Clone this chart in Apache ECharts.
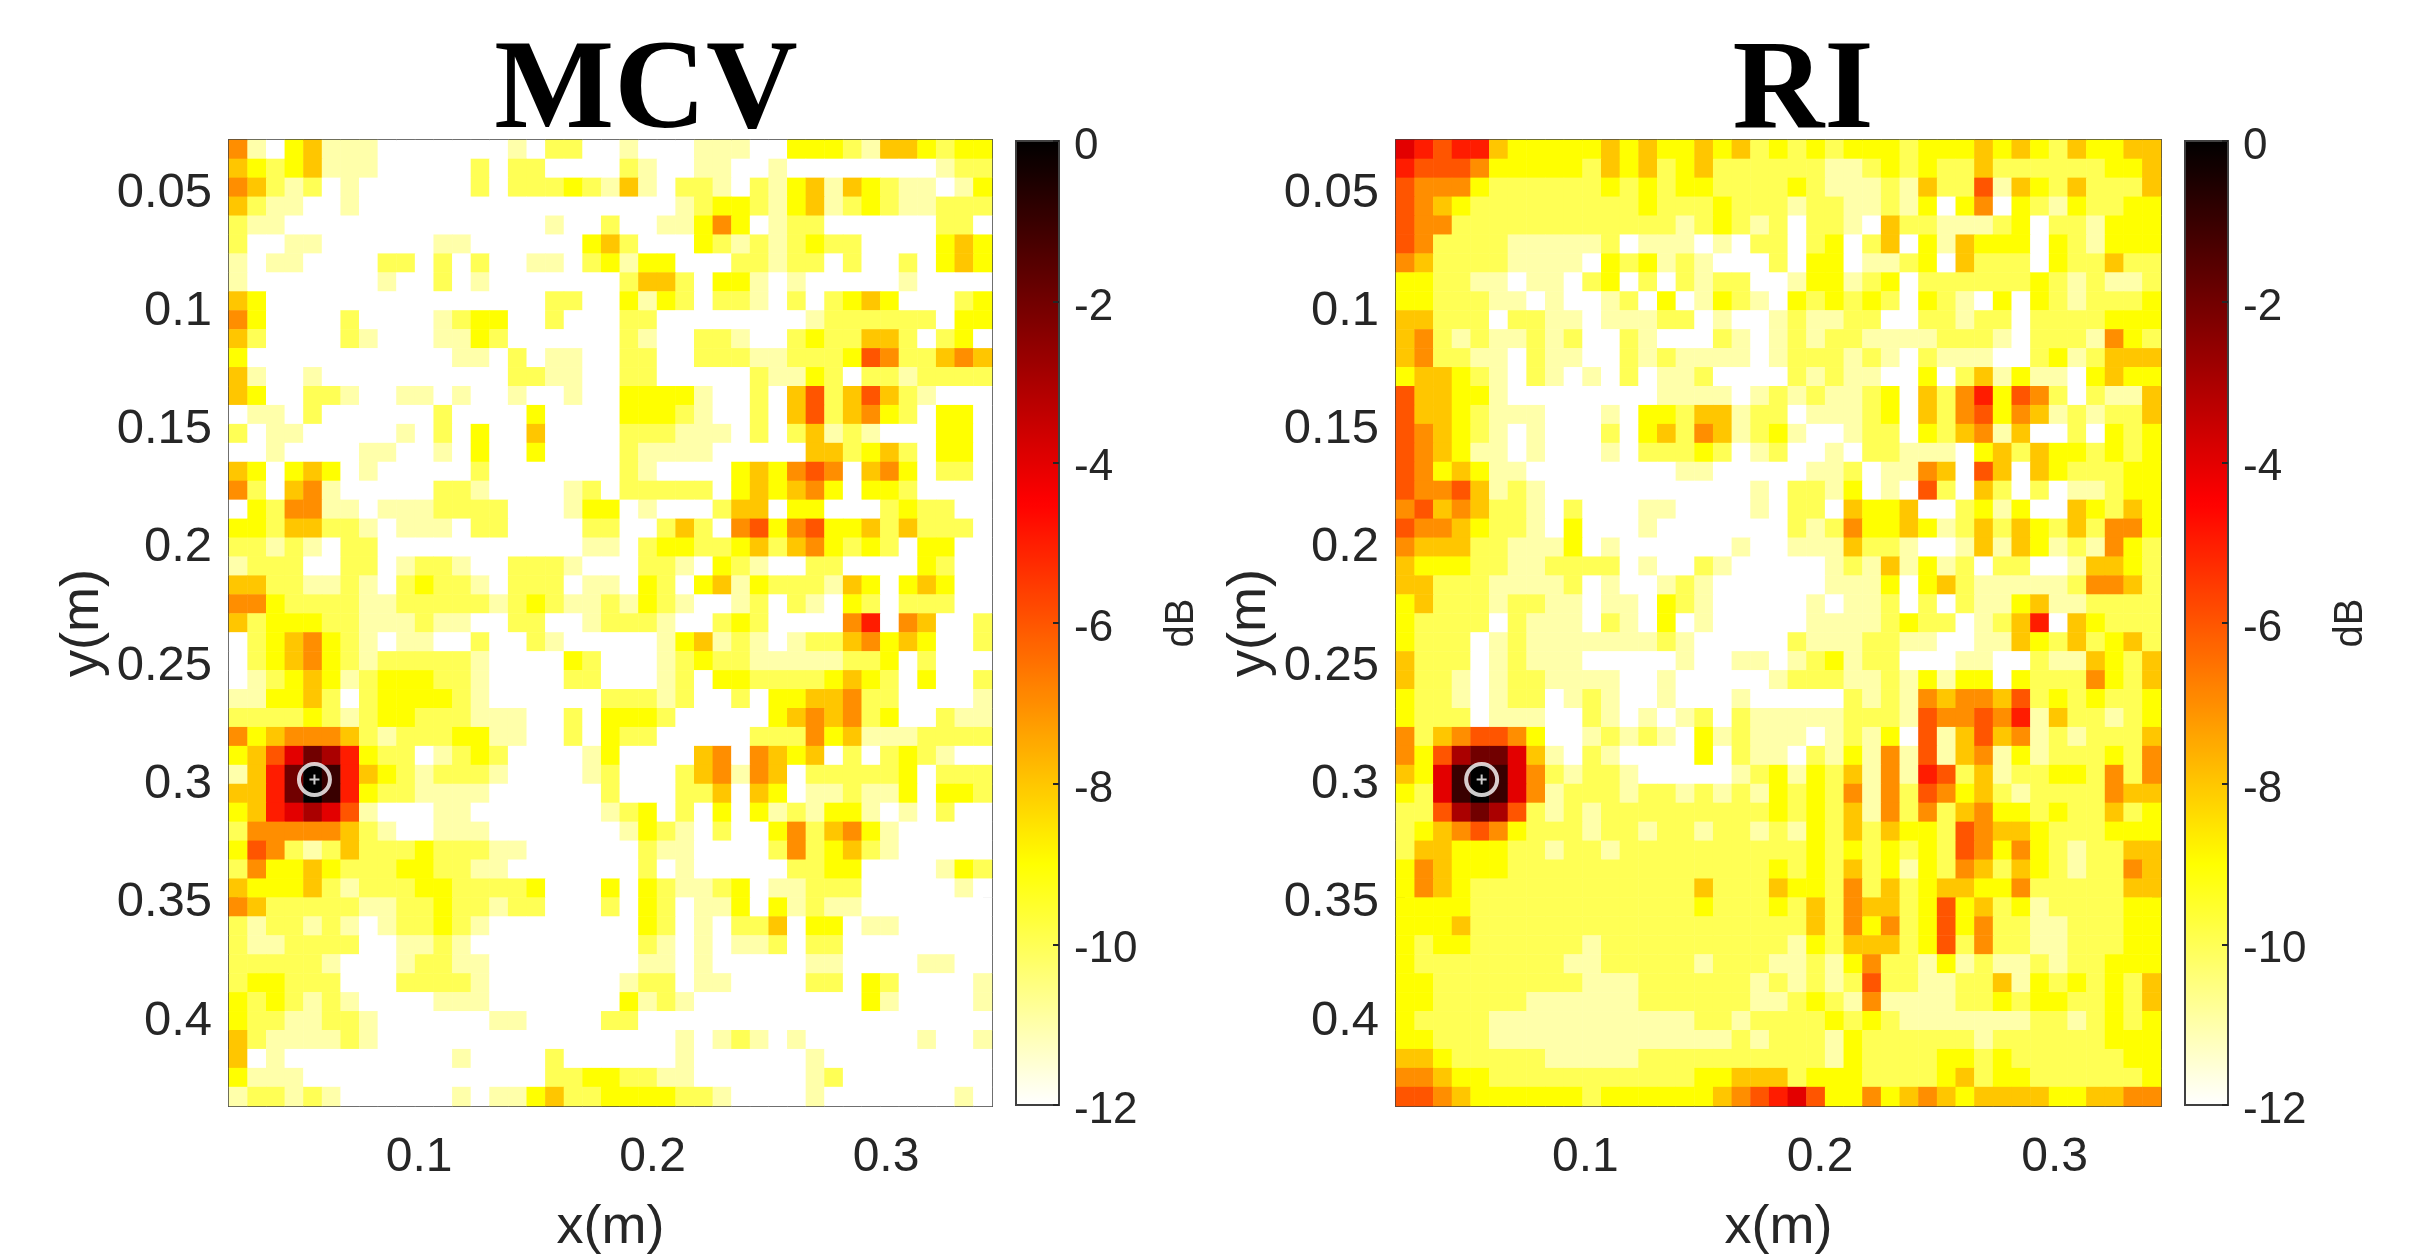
<!DOCTYPE html>
<html><head><meta charset="utf-8">
<style>html,body{margin:0;padding:0;background:#fff}#c{width:2414px;height:1257px}</style>
<script src="https://cdn.jsdelivr.net/npm/echarts@6/dist/echarts.min.js"></script></head>
<body><div id="c"></div>
<script>
// each character is one cell: minus dB, base 13 (0..9,a,b), '.' = -12 dB
var mcvRows = [
"7b.98bbb.......b.aa.."+"b...bbb..999ab889a99",
"89a98bbb.....a.aa...."+"ab..bb..b........baa",
"78aba.b......a.aaa9ab"+"8b.aab.ab98b89abb.b9",
"8abb..b.............."+"...ba99ab98ba9abbaaa",
"abb..............b..a"+"..bb979.baa......aa.",
"a..bb......bb......98"+"a...9ababa9aa....989",
"b.bb....aa.a.a..bb.a9"+"b99...aabaa.a..a.989",
"b.......b..a.b......."+"a88a.99b.b.....b....",
"89...............aa.."+"9b9a.aab.a.a989...a9",
"79....a....ba99..a..."+"aa........baaaaaa.99",
"8a....ab...bb9a......"+"ab..aab..a9aa88a.a9.",
"9...........bb.a.bb.."+"aa..aaabbaaa967aa878",
"8b..b..........aabb.."+"aa.....abb9a.aabaaaa",
"89..aab..bb.b..b..b.."+"9999b..a.86a868ab...",
".bb.a......a....9...."+"999ab..a.86a879a.99.",
"a.bb.....b.a.9..8...."+"aaabbb.a.a8bab...99.",
"..b....bb..b.9..9...."+"abbbb.....88a98a.99.",
"89.989.b.....a......."+"ab....989767.879.aa.",
"7a.87b.....aab....ba."+"aaaaa.989879.99a....",
".9a77bb.bbbaaaa...b99"+".b...a88.99...a9aa..",
"99a88aab.bbb.aa....aa"+"..a8a.76976998a8aaa.",
"aabab.aa...........bb"+".a99aa98a879a9a.99..",
"baaa..aa.baab..aaab.."+".aab.9ab..aa....9a..",
"88aabbab.a9aab.aaa.bb"+".9a.98b9aaab89.989..",
"779aaaabbaaaaaba9abba"+"b9ab..ba.ab.9a.aaa..",
"8a999aabbbabb..aa..ba"+"aab..a9a....75.78..a",
".a9879ab.bb..a..ab..."+"..b98bab.baa87989..a",
".a9879abaaaaab....9a."+"..ba9aabbbbbaa9.a...",
".ba989ba999aab....aa."+"..ba.99aaaa989a.9..a",
"bb998a.a9999ab......a"+"aaba..a.99887aa....b",
"aaaa9aba99aaabbb..a.9"+"99a.....98787a9..abb",
"7987778abaaa99bb..a.9"+"aa.....aaa798bbbaaaa",
"98642359aa.ba9a....b9"+"....87.7898.a.a9ab..",
"b85201589abaaab....ba"+"...a87b78.aaaaa9.aaa",
"88520159aabbbb......a"+"...aa8.89.bbabb9.99a",
"9854346b...bb.......b"+"a9.a.9.9bab99b.b.a..",
"a777778ab..bbb......."+"b9ab.a..97a879b.....",
"967aba8aaa9aaabb....."+".abb....a7a98ab.....",
"a79989aaa99aabb......"+".a.b.....aa99....b9a",
"89998abaaa99aaaa9...9"+".9abba9.bbaaa.....b.",
"78aaaaabbaa9aabaa...a"+".9a.bb9.9babb.......",
"abaabab.baa9ab......."+".9a.b.aa8.99.bb.....",
"abbaaaa..bbab........"+".ab.b.bba.aa........",
"aaaaab...baabb......."+".bb.b.....bb....bb..",
"a99aaa...aaaab......."+"baa.bb....aa.9a....b",
"9a9abab....bbb......."+"9bab.........9b....b",
"9aabbaab......bb....a"+"a...................",
"8abbbbab............."+"...b.bab.b......b..b",
"8.b.........b....a..."+"...b......b.........",
"9bbb.............aa99"+"aabb......ba........",
"baabab......b.bb98aa9"+"999aab....b.......b."
];
var riRows = [
"456558999998989989"+"8a9"+"a9a999a9998989a89988",
"5666799999a898a98aaaa"+"aabba9a9aa8aaaaaa998",
"67779aaaaaa9a9a99aaaa"+"9abbbab8aa6b89a8aaa8",
"6789aaaaaaaaa9aaa9aaa"+"baabbab9.97.9ab9aa99",
"677aaaaaaaaaaaaba9aba"+".aab.8aabbba9.aab999",
"67aaaabbbbba.bbb.b.aa"+".a9.a8.9b8999.9ab999",
"78aaaabbbb.9a9bab...a"+".99.bba9.8aaa.9aa8aa",
"99aabb.bb.a9.a.abaa.."+"b99ba9.aaaaaa9ababba",
"99aaabb.b..ba.9.b9ab."+"9a9a9a.9ab.9.9abaaa9",
"88aaa.aabb.bbbaa.b..b"+"abbaa..aabaa.aaaa999",
"87ababbaba..ab...ab.b"+"abaabbbbaaab.aaab79a",
"87aabb.abb..ababbbb.b"+"aaabab.abbb..a9ba888",
"9889ab.ab.b.a.bba...."+"ababb..9.a8b9bb.9899",
"68899b........bbbb.ba"+"babba9.8a75967a.abb8",
"6889abbb...b.99a88baa"+".bbba9.8a76978babaa8",
"6789ab.b...a.98a78ba9"+"b..baa.9a87b8..a.9a9",
"6789bb.b...b.aaa9a.ba"+"..b.aabbb.98a899a9a9",
"67989bb........bb...."+".bba.bb78.68.89aaa99",
"67768bab...........b."+"aab9.b.6a.8a.a.bba99",
"76878aab.a...bb....b."+"aa.8998..a9b9..89a89",
"67789aab.9...b......."+"aba79989ba8a89a8a779",
"7888aabbb9.b......b.."+"bbb8aab..b8b89bab79a",
"8999aabbaaaa.b..ab..."+"..bab8b9ba.aa..b889a",
"88aaabbbba.b..bab...."+"..bbb9.98abbbbba778a",
"98aaabaabb.bb.9ab...."+".b.bba.a.abb98bbaaaa",
"9aaaa.abbb.ab.9.b...."+".bbbba9aa.ba85.89aaa",
"9aaa.babbbbbbbab....."+"abbbaabb..bb89a8a98a",
"8aaa.babbb.....b..bb."+"ba9baa...bb..abb89a8",
"8aab.baabbbb..b.....b"+"aaabbab9b99.9aaa79a8",
"9aab.baa.bab..b...b.."+"...abab787786a9a9aa9",
"9aaa.bbb..ab.b.ba.abb"+"bbbaaab677675b8aaba9",
"7a876679..babab.9babb"+"b.bab9.6b8687babaaa8",
"79632248b.ab....9.abb"+".ab9b7b6b87b9baaa9a7",
"89410147abaab.....ba9"+"b9a8b7b56a8baa99a7a7",
"9a410147baaabaababab9"+"a9a7b7a6798abaaaa788",
"aa63236ababaaaaaaaaa9"+"a9a8b7a7a8799a9aa8a9",
"a987679aaabaabaabaaba"+"b9a8a899a67889aaa999",
"a88999aabaabaaaaaaaaa"+"a9a9a9a9a67979abaa88",
"978999aaaaaaaaaaaaaa9"+"a9a8a9b9a78a89abaa78",
"9789aaaaaaaaaaaa8aaa8"+"99a7a8a988997aaaaa88",
"9999aaaaaaaaaaaa9aaa9"+"a8a788a9698a9baaaa99",
"9998aaaaaaaaaaaaaaaaa"+"a8a797a9697aabbaaa99",
"9a99aaaaaabaaaaaaaaaa"+"b9a888a96a7aabbaaa99",
"9aaaaaaaabbaaaaabaaab"+"bab97aab9babbabaa999",
"99aaaaaaaabbbaaaaaaba"+"baba6aabbaa8b9a9a9a8",
"99aaaaabbbbbbaaaaaabb"+"a9ab7bbbbaa9a99aa9a8",
"9aaaabbbbbbbbbbbaabaa"+"aa9a9abbbbbbbaaba9a9",
"99aaabbbbbbbbbbbbbaba"+"aab9aaaaaabaaaaaa999",
"889aaaaabbbbbaaaaaaaa"+"aab9aaaa99a9aaaaaa99",
"77899aaaaaaaaaaa99888"+"a999aaaa98a99aaaaaa9",
"667899"+"9999"+"a99999"+"9"+"8765"+"4699798789"+"8888998877"
];
var xTicks = [0.1, 0.2, 0.3];
var yTicks = [0.05, 0.1, 0.15, 0.2, 0.25, 0.3, 0.35, 0.4];
var targetMCV = [[0.0552, 0.3]];
var targetRI = [[0.0558, 0.3]];
var titles = ["MCV", "RI"];

var COLS = 41, ROWS = mcvRows.length;
function cells(rows) {
  var out = [];
  rows.forEach(function (r, y) {
    r = r.padEnd(COLS, '.').slice(0, COLS);
    for (var x = 0; x < COLS; x++) {
      var ch = r[x];
      out.push([x, y, ch === '.' ? -12 : -parseInt(ch, 13)]);
    }
  });
  return out;
}
function seq(n) { var a = []; for (var i = 0; i < n; i++) a.push(String(i)); return a; }

var INK = '#262626', LINE = '#404040', SANS = 'Liberation Sans';
var hot = ['#ffffff', '#ffff80', '#ffff00', '#ffaa00', '#ff5500', '#ff0000', '#aa0000', '#550000', '#000000'];
var plots = [
  { left: 229, right: 1422, cb: 1016, xmin: 0.0186, xmax: 0.3454, rows: mcvRows, target: targetMCV },
  { left: 1396, right: 253, cb: 2185, xmin: 0.0193, xmax: 0.3453, rows: riRows, target: targetRI }
];
var grid = [], xAxis = [], yAxis = [], series = [], visualMap = [];
var TOP = 140, BOTTOM = 151, W = 2414, H = 1257;
plots.forEach(function (p, i) {
  var g = i;
  grid.push({ left: p.left, right: p.right, top: TOP, bottom: BOTTOM, show: false, outerBoundsMode: 'none' });
  var bx = xAxis.length, by = yAxis.length;
  xAxis.push({ gridIndex: g, type: 'category', data: seq(COLS), show: false });
  yAxis.push({ gridIndex: g, type: 'category', data: seq(ROWS), inverse: true, show: false });
  var lineStyle = { axisLine: { show: true, onZero: false, lineStyle: { color: LINE, width: 2 } } };
  xAxis.push(Object.assign({ gridIndex: g, type: 'value', position: 'bottom', min: p.xmin, max: p.xmax,
    name: 'x(m)', nameLocation: 'middle', nameGap: 95, nameTextStyle: { fontFamily: SANS, fontSize: 54, color: INK },
    splitLine: { show: false }, axisTick: { inside: true, length: 9, customValues: xTicks, lineStyle: { color: INK, width: 2 } },
    axisLabel: { customValues: xTicks, margin: 28, fontFamily: SANS, fontSize: 48, color: INK } }, lineStyle));
  xAxis.push(Object.assign({ gridIndex: g, type: 'value', position: 'top', min: p.xmin, max: p.xmax,
    splitLine: { show: false }, axisTick: { inside: true, length: 9, customValues: xTicks, lineStyle: { color: INK, width: 2 } },
    axisLabel: { show: false } }, lineStyle));
  yAxis.push(Object.assign({ gridIndex: g, type: 'value', position: 'left', inverse: true, min: 0.0297, max: 0.438,
    name: 'y(m)', nameLocation: 'middle', nameGap: 119, nameTextStyle: { fontFamily: SANS, fontSize: 54, color: INK },
    splitLine: { show: false }, axisTick: { inside: true, length: 9, customValues: yTicks, lineStyle: { color: INK, width: 2 } },
    axisLabel: { customValues: yTicks, margin: 17, verticalAlign: 'top', lineHeight: 10, fontFamily: SANS, fontSize: 49, color: INK } }, lineStyle));
  yAxis.push(Object.assign({ gridIndex: g, type: 'value', position: 'right', inverse: true, min: 0.0297, max: 0.438,
    splitLine: { show: false }, axisTick: { inside: true, length: 9, customValues: yTicks, lineStyle: { color: INK, width: 2 } },
    axisLabel: { show: false } }, lineStyle));
  var si = series.length;
  series.push({ type: 'heatmap', xAxisIndex: bx, yAxisIndex: by, data: cells(p.rows), progressive: 0, silent: true, z: 1 });
  series.push({ type: 'scatter', xAxisIndex: bx + 1, yAxisIndex: by + 1, data: p.target, symbol: 'circle', symbolSize: 31,
    itemStyle: { color: 'rgba(0,0,0,0)', borderColor: '#fff', borderWidth: 4 }, silent: true, z: 3 });
  series.push({ type: 'scatter', xAxisIndex: bx + 1, yAxisIndex: by + 1, data: p.target,
    symbol: 'path://M4 0h2v4h4v2h-4v4h-2v-4h-4v-2h4z', symbolSize: 10, itemStyle: { color: '#fff' }, silent: true, z: 3 });
  visualMap.push({ seriesIndex: si, type: 'continuous', min: -12, max: 0, left: p.cb, top: 141, itemWidth: 43, itemHeight: 964,
    padding: 0, calculable: false, hoverLink: false, text: null, inRange: { color: hot }, textStyle: { fontSize: 1, color: 'rgba(0,0,0,0)' } });
});
plots.forEach(function (p, i) {
  var g = grid.length;
  grid.push({ left: p.cb, width: 43, top: 141, bottom: 152, show: true, backgroundColor: 'transparent', borderColor: LINE, borderWidth: 2, z: 6, outerBoundsMode: 'none' });
  xAxis.push({ gridIndex: g, type: 'value', show: false, min: 0, max: 1 });
  yAxis.push({ gridIndex: g, type: 'value', position: 'right', min: -12, max: 0, interval: 2, z: 6,
    name: 'dB', nameLocation: 'middle', nameGap: 103, nameRotate: 90, nameTextStyle: { fontFamily: SANS, fontSize: 40, color: INK },
    splitLine: { show: false }, axisLine: { show: true, onZero: false, lineStyle: { color: LINE, width: 2 } },
    axisTick: { inside: true, length: 6, lineStyle: { color: INK, width: 2 } },
    axisLabel: { margin: 15, verticalAlign: 'top', lineHeight: 12, fontFamily: SANS, fontSize: 44, color: INK } });
});
var chart = echarts.init(document.getElementById('c'), null, { width: W, height: H });
var titleStyle = { fontFamily: 'Liberation Serif', fontWeight: 'bold', fontSize: 127, color: '#000' };
chart.setOption({
  animation: false, backgroundColor: '#fff',
  title: [
    { text: titles[0], left: 641, top: 26, textAlign: 'center', textStyle: titleStyle },
    { text: titles[1], left: 1798, top: 26, textAlign: 'center', textStyle: titleStyle }
  ],
  grid: grid, xAxis: xAxis, yAxis: yAxis, visualMap: visualMap, series: series
});
</script></body></html>
